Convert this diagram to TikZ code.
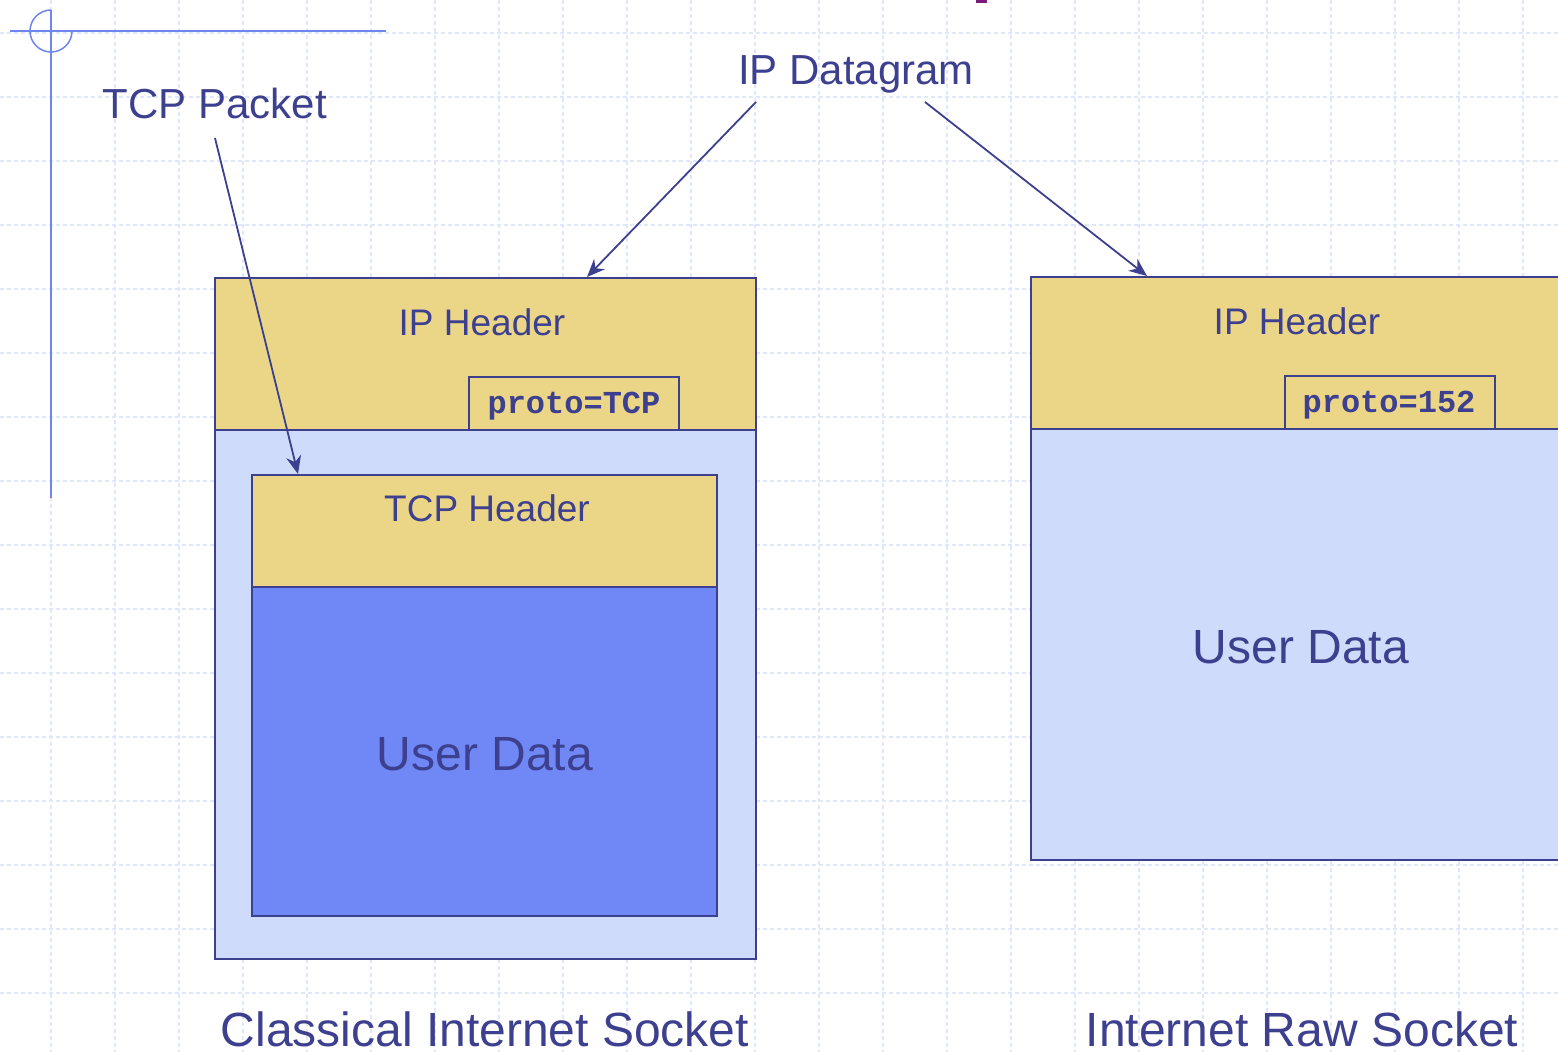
\documentclass[tikz,border=0pt]{standalone}
\usepackage{fontspec}
\setmainfont{Liberation Sans}
\setmonofont{Liberation Mono}
\usetikzlibrary{arrows.meta,positioning}

\definecolor{inkblue}{HTML}{3D3F8F}
\definecolor{hdryellow}{HTML}{EBD687}
\definecolor{paleblue}{HTML}{CFDBFA}
\definecolor{datablue}{HTML}{7088F5}
\definecolor{gridblue}{HTML}{E0E6FB}
\definecolor{crossblue}{HTML}{6F86EE}
\definecolor{markpurple}{HTML}{7A1A7A}

\begin{document}
\begin{tikzpicture}[
			x=1pt, y=-1pt,
			gridline/.style={gridblue, line width=1.3pt, dash pattern=on 4pt off 3pt},
			crossline/.style={crossblue, line width=1.5pt},
			box/.style={draw=inkblue, line width=2pt, inner sep=0pt, outer sep=0pt, anchor=north west},
			hdr/.style={box, fill=hdryellow},
			pale/.style={box, fill=paleblue},
			data/.style={box, fill=datablue},
			lbl/.style={text=inkblue, font=\fontsize{42}{48}\selectfont, anchor=base, inner sep=0pt},
			hdrlbl/.style={lbl, font=\fontsize{37}{44}\selectfont},
			datalbl/.style={lbl, font=\fontsize{48}{56}\selectfont},
			protolbl/.style={lbl, font=\fontsize{32}{38}\selectfont\ttfamily\bfseries},
			ptr/.style={inkblue, line width=1.8pt, -{Stealth[length=18pt, width=15pt]}}
	]
	\useasboundingbox (0,0) rectangle (1558,1052);

	% background grid
	\foreach \gx in {51,115,...,1550}
		\draw[gridline] (\gx,0) -- (\gx,1052);
	\foreach \gy in {33,97,...,1040}
		\draw[gridline] (0,\gy) -- (1558,\gy);

	% slide decoration
	\draw[crossline] (10,31) -- (386,31);
	\draw[crossline] (51,10) -- (51,498);
	\draw[crossline] (51,10) arc[start angle=-90, end angle=-360, radius=21];
	\fill[markpurple] (976,0) rectangle (987,3);

	% classical socket
	\node[pale, minimum width=541pt, minimum height=681pt] (ipA) at (215,278) {};
	\node[hdr, minimum width=541pt, minimum height=152pt] (iphdrA) at (215,278) {};
	\node[hdr, minimum width=210pt, minimum height=53pt] (protoA) at (469,377) {};
	\node[hdr, minimum width=465pt, minimum height=112pt] (tcphdr) at (252,475) {};
	\node[data, minimum width=465pt, minimum height=329pt] (dataA) at (252,587) {};

	% raw socket
	\node[pale, minimum width=532pt, minimum height=583pt] (ipB) at (1031,277) {};
	\node[hdr, minimum width=532pt, minimum height=152pt] (iphdrB) at (1031,277) {};
	\node[hdr, minimum width=210pt, minimum height=53pt] (protoB) at (1285,376) {};

	% texts
	\node[lbl] (tcppkt) at (215,118) {TCP Packet};
	\node[lbl] (ipdg) at (856,84) {IP Datagram};
	\node[hdrlbl] (iphdrAtxt) at (482,335) {IP Header};
	\node[hdrlbl] (iphdrBtxt) at (1297,334) {IP Header};
	\node[protolbl] (protoAtxt) at (574,413) {proto=TCP};
	\node[protolbl] (protoBtxt) at (1389,412) {proto=152};
	\node[hdrlbl] (tcphdrtxt) at (487,521) {TCP Header};
	\node[datalbl] (dataAtxt) at (485,770) {User Data};
	\node[datalbl] (dataBtxt) at (1301,663) {User Data};
	\node[datalbl] (captA) at (485,1046) {Classical Internet Socket};
	\node[datalbl] (captB) at (1302,1046) {Internet Raw Socket};

	% pointers
	\coordinate (tcpfrom) at (215,138);
	\coordinate (tcpto) at (298,474);
	\coordinate (dgfromA) at (756,102);
	\coordinate (dgtoA) at (587,277);
	\coordinate (dgfromB) at (925,102);
	\coordinate (dgtoB) at (1147,276);
	\draw[ptr] (tcpfrom) -- (tcpto);
	\draw[ptr] (dgfromA) -- (dgtoA);
	\draw[ptr] (dgfromB) -- (dgtoB);
\end{tikzpicture}
\end{document}
